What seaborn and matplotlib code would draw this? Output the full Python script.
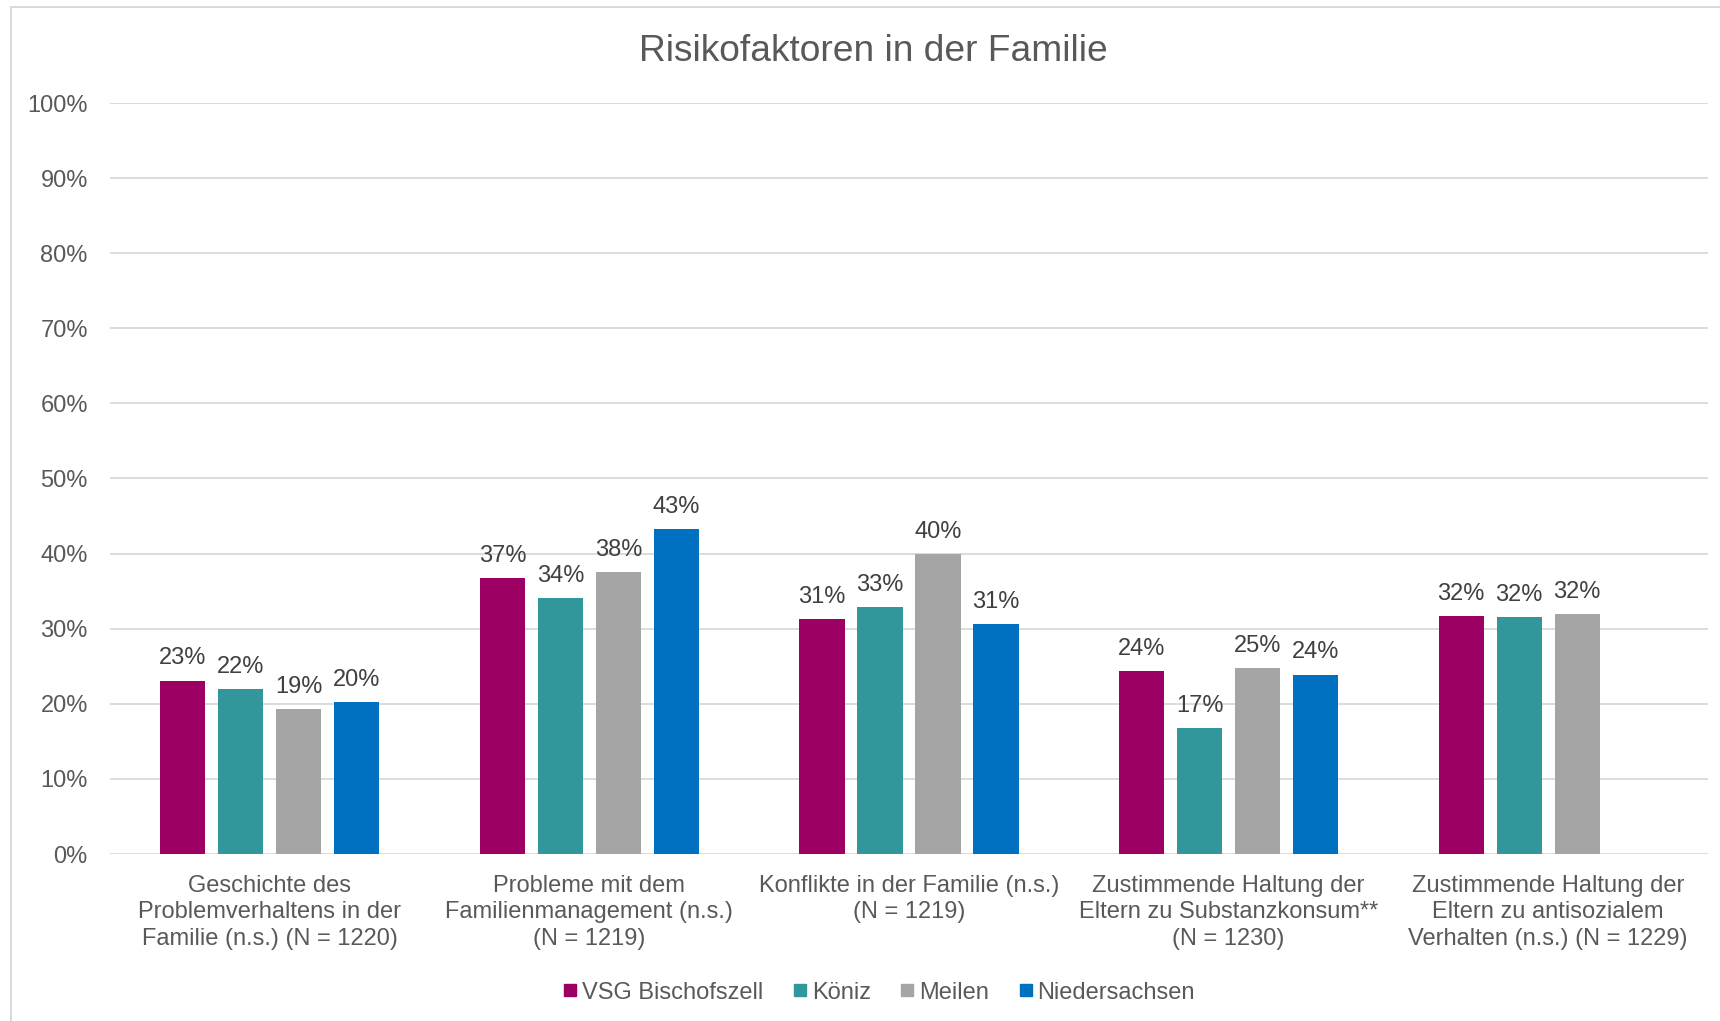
import pandas as pd
import seaborn as sns
import matplotlib.pyplot as plt
from matplotlib.lines import Line2D
from matplotlib.patches import Rectangle
from matplotlib.ticker import PercentFormatter

categories = [
    "Geschichte des\nProblemverhaltens in der\nFamilie (n.s.) (N = 1220)",
    "Probleme mit dem\nFamilienmanagement (n.s.)\n(N = 1219)",
    "Konflikte in der Familie (n.s.)\n(N = 1219)",
    "Zustimmende Haltung der\nEltern zu Substanzkonsum**\n(N = 1230)",
    "Zustimmende Haltung der\nEltern zu antisozialem\nVerhalten (n.s.) (N = 1229)",
]
series = ["VSG Bischofszell", "Köniz", "Meilen", "Niedersachsen"]
bischofszell = [23.1, 36.7, 31.3, 24.4, 31.7]
koeniz = [22.0, 34.1, 32.9, 16.8, 31.6]
meilen = [19.3, 37.6, 39.9, 24.8, 31.9]
niedersachsen = [20.2, 43.3, 30.6, 23.9, None]
colors = ["#9B0062", "#31979A", "#A5A5A5", "#0070C0"]
text_col = "#595959"
grid_col = "#D9D9D9"

rows = []
for name, vals in zip(series, [bischofszell, koeniz, meilen, niedersachsen]):
    for cat, v in zip(categories, vals):
        rows.append({"Kategorie": cat, "Ort": name, "Wert": v})
df = pd.DataFrame(rows)

sns.set_theme(style="white")
plt.rcParams['font.family'] = ['Liberation Sans', 'DejaVu Sans']

fig = plt.figure(figsize=(17.2, 10.21), dpi=100)
ax = fig.add_axes([110 / 1720, 1 - 854 / 1021, 1598 / 1720, (854 - 103) / 1021])

sns.barplot(data=df, x="Kategorie", y="Wert", hue="Ort", hue_order=series,
            order=categories, palette=colors, saturation=1, width=0.726,
            gap=0.22, linewidth=0, ax=ax, legend=False)

for cont in ax.containers:
    ax.bar_label(cont, fmt="{:.0f}%", padding=8, fontsize=17, color="#404040")

ax.set_ylim(0, 100)
ax.set_yticks(range(0, 101, 10))
ax.yaxis.set_major_formatter(PercentFormatter(decimals=0))
ax.set_xlabel("")
ax.set_ylabel("")
ax.grid(axis="y", color=grid_col, linewidth=1.3)
ax.set_axisbelow(True)
sns.despine(ax=ax, left=True, bottom=True, top=True, right=True)
ax.tick_params(axis="y", length=0, pad=16, labelsize=17, labelcolor=text_col)
ax.tick_params(axis="x", length=0, pad=15, labelsize=17, labelcolor=text_col)
for lab in ax.get_xticklabels():
    lab.set_linespacing(1.27)

fig.text(873.5 / 1720, 1 - 60.7 / 1021, "Risikofaktoren in der Familie",
         ha="center", va="baseline", fontsize=26.7, color=text_col)

handles = [Line2D([], [], marker="s", linestyle="", color=c, markersize=8.6)
           for c in colors]
fig.legend(handles, series, loc="center", bbox_to_anchor=(879 / 1720, 1 - 992.5 / 1021),
           ncol=4, frameon=False, fontsize=17, handlelength=0.6,
           handletextpad=0.2, columnspacing=1.25, labelcolor=text_col)

fig.patches.append(Rectangle((11 / 1720, -0.05), 1.1, 1 - 7 / 1021 + 0.05,
                             transform=fig.transFigure, fill=False,
                             edgecolor=grid_col, linewidth=1.4))

fig.savefig("out.png", dpi=100)
